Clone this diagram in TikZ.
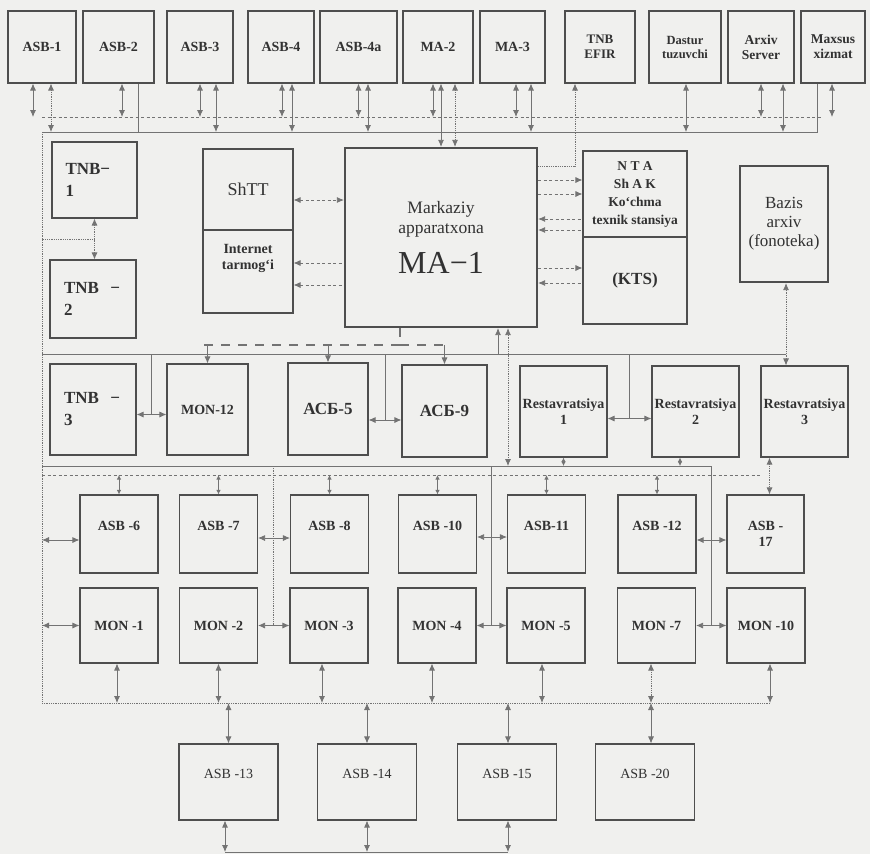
\documentclass[tikz,border=0pt]{standalone}
\usepackage{fontspec}
\setmainfont{Liberation Serif}
\usepackage{tikz}
\usetikzlibrary{arrows.meta, positioning, calc}
\definecolor{paper}{RGB}{240,240,238}
\definecolor{boxdraw}{RGB}{78,78,78}
\definecolor{linegray}{RGB}{115,115,115}
\definecolor{textgray}{RGB}{50,50,50}
\newcommand{\fsz}[2]{\fontsize{#1}{#2}\selectfont}

\begin{document}
\begin{tikzpicture}[x=1pt, y=-1pt, >={Latex[length=7pt,width=6pt]},
    blk/.style={draw=boxdraw, line width=1.1pt, text=textgray, align=center, inner sep=1pt,
                font=\bfseries\fsz{14}{16}},
    heavy/.style={blk, line width=2.2pt},
    raised/.style={text depth=17pt},
    link/.style={draw=linegray, line width=0.8pt},
    dots/.style={link, densely dotted},
    dashline/.style={link, dash pattern=on 3pt off 2.5pt},
    thickdash/.style={link, line width=1.8pt, dash pattern=on 9pt off 8pt},
    small tips/.style={>={Latex[length=4.5pt,width=4.5pt]}}]
    \fill[paper] (0,0) rectangle (870,854);
    \useasboundingbox (0,0) rectangle (870,854);

    % top row
    \node[blk, minimum width=68pt, minimum height=72pt] (asb1) at (42,47) {ASB-1};
    \node[blk, minimum width=71pt, minimum height=72pt] (asb2) at (118.5,47) {ASB-2};
    \node[blk, minimum width=66pt, minimum height=72pt] (asb3) at (200,47) {ASB-3};
    \node[blk, minimum width=66pt, minimum height=72pt] (asb4) at (281,47) {ASB-4};
    \node[blk, minimum width=77pt, minimum height=72pt] (asb4a) at (358.5,47) {ASB-4a};
    \node[blk, minimum width=70pt, minimum height=72pt] (ma2) at (438,47) {MA-2};
    \node[blk, minimum width=65pt, minimum height=72pt] (ma3) at (512.5,47) {MA-3};
    \node[blk, minimum width=70pt, minimum height=72pt, font=\bfseries\fsz{13}{15}] (efir) at (600,47) {TNB\\EFIR};
    \node[blk, minimum width=72pt, minimum height=72pt, font=\bfseries\fsz{12.5}{14}] (dastur) at (685,47) {Dastur\\tuzuvchi};
    \node[blk, minimum width=66pt, minimum height=72pt, font=\bfseries\fsz{13.5}{15}] (arxiv) at (761,47) {Arxiv\\Server};
    \node[blk, minimum width=64pt, minimum height=72pt, font=\bfseries\fsz{13.5}{15}] (maxsus) at (833,47) {Maxsus\\xizmat};

    % centre block
    \node[blk, minimum width=85pt, minimum height=76pt, text width=58pt, align=left,
          font=\bfseries\fsz{17}{22}] (tnb1) at (94.5,180) {TNB−\\1};
    \node[blk, minimum width=86pt, minimum height=78pt, text width=58pt, align=left,
          font=\bfseries\fsz{17}{22}] (tnb2) at (93,299) {TNB\ \ −\\2};
    \node[blk, minimum width=90pt, minimum height=81pt, font=\fsz{18}{20}] (shtt) at (248,189.5) {ShTT};
    \node[blk, minimum width=90pt, minimum height=83pt, text depth=30pt,
          font=\bfseries\fsz{14}{16}] (inet) at (248,271.5) {Internet\\tarmog‘i};
    \node[heavy, minimum width=192pt, minimum height=179pt, font=\fsz{17.5}{20}] (ma1) at (441,237.5)
        {Markaziy\\apparatxona\\[14pt]{\fsz{32}{34}MA−1}};
    \node[blk, minimum width=104pt, minimum height=86pt, font=\bfseries\fsz{13.5}{18}] (nta) at (635,194)
        {N T A\\Sh A K\\Ko‘chma\\texnik stansiya};
    \node[blk, minimum width=104pt, minimum height=87pt, font=\bfseries\fsz{17}{19}] (kts) at (635,280.5) {(KTS)};
    \node[heavy, minimum width=88pt, minimum height=116pt, font=\fsz{17}{19}] (bazis) at (784,224) {Bazis\\arxiv\\(fonoteka)};

    % middle row
    \node[blk, minimum width=86pt, minimum height=91pt, text width=58pt, align=left,
          font=\bfseries\fsz{17}{22}] (tnb3) at (93,409.5) {TNB\ \ −\\3};
    \node[blk, minimum width=81pt, minimum height=91pt] (mon12) at (207.5,409.5) {MON-12};
    \node[blk, minimum width=80pt, minimum height=92pt, font=\bfseries\fsz{17}{19}] (acb5) at (328,409) {АСБ-5};
    \node[blk, minimum width=85pt, minimum height=92pt, font=\bfseries\fsz{17}{19}] (acb9) at (444.5,411) {АСБ-9};
    \node[blk, minimum width=87pt, minimum height=91pt] (rest1) at (563.5,411.5) {Restavratsiya\\1};
    \node[blk, minimum width=87pt, minimum height=91pt] (rest2) at (695.5,411.5) {Restavratsiya\\2};
    \node[blk, minimum width=87pt, minimum height=91pt] (rest3) at (804.5,411.5) {Restavratsiya\\3};

    % lower rows
    \foreach \n/\x/\t in {asb6/119/ASB -6, asb7/218.5/ASB -7, asb8/329.5/ASB -8,
                          asb10/437.5/ASB -10, asb11/546.5/ASB-11, asb12/657/ASB -12}
        \node[blk, raised, minimum width=78pt, minimum height=78pt] (\n) at (\x,534) {\t};
    \node[blk, minimum width=77pt, minimum height=78pt] (asb17) at (765.5,534) {ASB -\\17};
    \foreach \n/\x/\t in {mon1/119/MON -1, mon2/218.5/MON -2, mon3/329/MON -3, mon4/437/MON -4,
                          mon5/546/MON -5, mon7/656.5/MON -7, mon10/766/MON -10}
        \node[blk, minimum width=78pt, minimum height=75pt] (\n) at (\x,625.5) {\t};
    \foreach \n/\x/\t in {asb13/228.5/ASB -13, asb14/367/ASB -14, asb15/507/ASB -15, asb20/645/ASB -20}
        \node[blk, raised, font=\fsz{14}{16}, minimum width=99pt, minimum height=76pt] (\n) at (\x,782) {\t};

    % buses
    \coordinate (dbusL) at (42,117);  \coordinate (dbusR) at (822,117);
    \coordinate (sbusL) at (42,132);  \coordinate (sbusR) at (817,132);
    \coordinate (mbusL) at (42,354);  \coordinate (mbusR) at (786,354);
    \coordinate (lbusL) at (42,466);
    \coordinate (ldashL) at (42,475); \coordinate (ldashR) at (760,475);
    \coordinate (bbusL) at (42,703);  \coordinate (bbusR) at (770,703);
    \coordinate (floorL) at (225,852); \coordinate (floorR) at (508,852);
    \coordinate (thk) at (203,345);
    \draw[dashline] (dbusL) -- (dbusR);
    \draw[link] (sbusL) -- (sbusR) -- (sbusR |- maxsus.south);
    \draw[dots] (sbusL) -- (bbusL);
    \draw[link] (mbusL) -- (mbusR);
    \draw[dashline] (ldashL) -- (ldashR);
    \draw[dots] (bbusL) -- (bbusR);
    \draw[link] (floorL) -- (floorR);

    % top row taps
    \foreach \n/\s in {asb1/-9, asb2/3.5, asb3/0, asb4/1, asb4a/0, ma2/-5, ma3/3.5, arxiv/0, maxsus/-1}
        \draw[link, <->] ([xshift=\s pt]\n.south) -- ([xshift=\s pt]\n.south |- dbusL);
    \foreach \n/\s in {asb3/16, asb4/11, asb4a/9.5, ma3/18.5, dastur/1, arxiv/22}
        \draw[link, <->] ([xshift=\s pt]\n.south) -- ([xshift=\s pt]\n.south |- sbusL);
    \draw[dots, <->] ([xshift=9pt]asb1.south) -- ([xshift=9pt]asb1.south |- sbusL);
    \draw[link] ([xshift=19.5pt]asb2.south) -- ([xshift=19.5pt]asb2.south |- sbusL);
    \draw[link, <->] ([xshift=3pt]ma2.south) -- ([xshift=3pt]ma2.south |- ma1.north);
    \draw[dots, <->] ([xshift=17pt]ma2.south) -- ([xshift=17pt]ma2.south |- ma1.north);
    \draw[dots, <-] ([xshift=-25pt]efir.south) |- ([yshift=71.5pt]ma1.east);

    % around MA-1
    \draw[dashline, <->] ([yshift=-10.5pt]shtt.east) -- ([yshift=-10.5pt]shtt.east -| ma1.west);
    \foreach \s in {8.5,-13.5}
        \draw[dashline, <-] ([yshift=\s pt]inet.east) -- ([yshift=\s pt]inet.east -| ma1.west);
    \foreach \s in {14,0}
        \draw[dashline, ->] ([yshift=\s pt]nta.west -| ma1.east) -- ([yshift=\s pt]nta.west);
    \foreach \s in {-25,-36}
        \draw[dashline, <-] ([yshift=\s pt]nta.west -| ma1.east) -- ([yshift=\s pt]nta.west);
    \draw[dashline, ->] ([yshift=12.5pt]kts.west -| ma1.east) -- ([yshift=12.5pt]kts.west);
    \draw[dashline, <-] ([yshift=-2.5pt]kts.west -| ma1.east) -- ([yshift=-2.5pt]kts.west);
    \draw[dots, <->] ([xshift=2pt]bazis.south) -- ([xshift=2pt]bazis.south |- rest3.north);
    \coordinate (tj) at ($(tnb1.south)!.5!(tnb1.south |- tnb2.north)$);
    \draw[dots] (tj) -- (tj -| sbusL);
    \draw[dots, <->] (tnb1.south) -- (tnb1.south |- tnb2.north);

    % MA-1 outputs
    \draw[thickdash] ([xshift=-41pt]ma1.south) |- (thk);
    \draw[thickdash] ([xshift=-41pt]ma1.south |- thk) -- (thk -| acb9.north);
    \foreach \n in {mon12, acb5, acb9}
        \draw[link, ->] (\n.north |- thk) -- (\n.north);
    \draw[link, ->] ([xshift=57pt]ma1.south |- mbusL) -- ([xshift=57pt]ma1.south);
    \draw[dots, <->] ([xshift=67pt]ma1.south) -- ([xshift=67pt]ma1.south |- lbusL);

    % middle row links
    \foreach \a/\b/\s in {tnb3/mon12/-5, acb5/acb9/-11, rest1/rest2/-7} {
        \draw[link, <->] ([yshift=\s pt]\a.east) coordinate (p) -- ([yshift=\s pt]\a.east -| \b.west) coordinate (q);
        \coordinate (m) at ($(p)!.5!(q)$);
        \draw[link] (m) -- (m |- mbusL);
    }
    \draw[link, <->, small tips] (rest1.south) -- (rest1.south |- lbusL);
    \draw[link, <->, small tips] ([xshift=-15.5pt]rest2.south) -- ([xshift=-15.5pt]rest2.south |- lbusL);
    \draw[dots, <->] ([xshift=-35pt]rest3.south) -- ([xshift=-35pt]rest3.south |- asb17.north);

    % lower rows links
    \coordinate (t1) at ($(mon2.east)!.5!(mon3.west)$);
    \coordinate (t2) at ($(mon4.east)!.5!(mon5.west)$);
    \coordinate (t3) at ($(mon7.east)!.5!(mon10.west)$);
    \draw[link] (lbusL) -| (t3);
    \draw[link] (t2 |- lbusL) -- (t2);
    \draw[dots] (t1 |- lbusL) -- (t1);
    \foreach \a/\b/\s in {asb7/asb8/-4, asb10/asb11/-3, asb12/asb17/-6, mon2/mon3/0, mon4/mon5/0, mon7/mon10/0}
        \draw[link, <->] ([yshift=\s pt]\a.east) -- ([yshift=\s pt]\a.east -| \b.west);
    \draw[link, <->] ([yshift=-6pt]asb6.west -| sbusL) -- ([yshift=-6pt]asb6.west);
    \draw[link, <->] (mon1.west -| sbusL) -- (mon1.west);
    \foreach \n in {asb6, asb7, asb8, asb10, asb11, asb12}
        \draw[link, <->, small tips] (\n.north |- ldashL) -- (\n.north);
    \foreach \n/\s in {mon1/-2, mon2/0, mon3/-7, mon4/-5, mon5/-4, mon10/4}
        \draw[link, <->] ([xshift=\s pt]\n.south) -- ([xshift=\s pt]\n.south |- bbusL);
    \draw[dots, <->] ([xshift=-5.5pt]mon7.south) -- ([xshift=-5.5pt]mon7.south |- bbusL);
    \foreach \n/\s in {asb13/0, asb14/0, asb15/1, asb20/6}
        \draw[link, <->] ([xshift=\s pt]\n.north |- bbusL) -- ([xshift=\s pt]\n.north);
    \foreach \n/\s in {asb13/-3.5, asb14/0, asb15/1}
        \draw[link, <->] ([xshift=\s pt]\n.south) -- ([xshift=\s pt]\n.south |- floorL);
\end{tikzpicture}
\end{document}
